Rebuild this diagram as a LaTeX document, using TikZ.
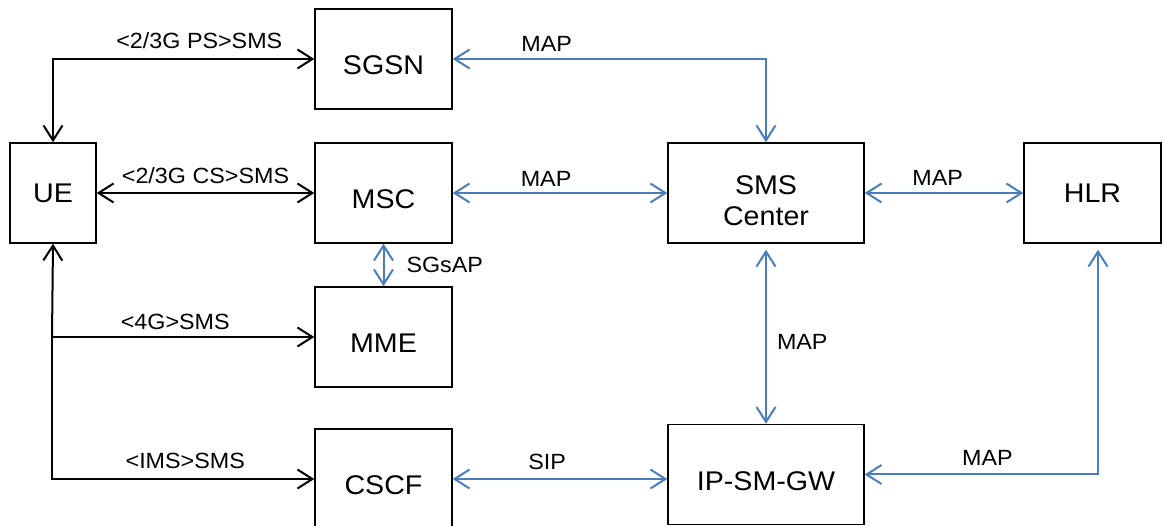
\documentclass[tikz,border=0pt]{standalone}
\usepackage{fontspec}
\setmainfont{Liberation Sans}[FakeStretch=1.06]
\usetikzlibrary{positioning,arrows.meta}

\begin{document}
\begin{tikzpicture}[
    x=1pt, y=1pt,
    >={Straight Barb[length=15pt, width=19pt]},
    box/.style={rectangle, draw, line width=1.4pt, minimum width=137pt, minimum height=100pt,
        inner sep=0pt, align=center, text depth=0pt, text height=32pt,
        font=\fontsize{27}{31}\selectfont},
    lbl/.style={inner sep=0pt, text depth=0pt, font=\fontsize{22}{26}\selectfont},
    link/.style={line width=2pt, black},
    map/.style={line width=2pt, draw=mapblue}
]
\definecolor{mapblue}{HTML}{4A7EBB}
\useasboundingbox (0,0) rectangle (1164,526);

\node[box, minimum width=86pt, text height=19pt] (ue) at (53,333) {UE};
\node[box] (sgsn) at (383.5,467) {SGSN};
\node[box] (msc) at (383.5,333) {MSC};
\node[box] (mme) at (383.5,189) {MME};
\node[box] (cscf) at (383.5,47) {CSCF};
\node[box, minimum width=196pt, text height=66pt] (smsc) at (766,333) {SMS\\Center};
\node[box, text height=19pt] (hlr) at (1092.5,333) {HLR};
\node[box, minimum width=196pt] (ipsmgw) at (766,51.5) {IP-SM-GW};
\coordinate (split) at (52,189);

\draw[link, <->] (ue.north) |- node[lbl, above=9pt, pos=0.78] {<2/3G PS>SMS} (sgsn.west);
\draw[link, <->] (ue) -- node[lbl, above=8pt] {<2/3G CS>SMS} (msc);
\draw[link, ->] (split) -- (ue.south);
\draw[link, ->] (split) -- node[lbl, above=6pt, pos=0.47] {<4G>SMS} (mme.west);
\draw[link, ->] (split) |- node[lbl, above=9pt, pos=0.754] {<IMS>SMS} (cscf.west);

\draw[map, <->] (smsc.north) |- node[lbl, above=6pt, pos=0.85] {MAP} (sgsn.east);
\draw[map, <->] (msc) -- node[lbl, above=5pt, pos=0.435] {MAP} (smsc);
\draw[map, <->] (smsc) -- node[lbl, above=6pt, pos=0.46] {MAP} (hlr);
\draw[map, <->] (msc) -- node[lbl, right=22pt] {SGsAP} (mme);
\draw[map, <->, shorten <=6pt] (smsc) -- node[lbl, right=10pt, pos=0.544] {MAP} (ipsmgw);
\draw[map, <->] (cscf) -- node[lbl, above=8pt, pos=0.44] {SIP} (cscf -| ipsmgw.west);
\draw[map, <->, shorten <=6pt] ([xshift=5.5pt]hlr.south) |- node[lbl, above=8pt, pos=0.737] {MAP} (ipsmgw.east);
\end{tikzpicture}
\end{document}
